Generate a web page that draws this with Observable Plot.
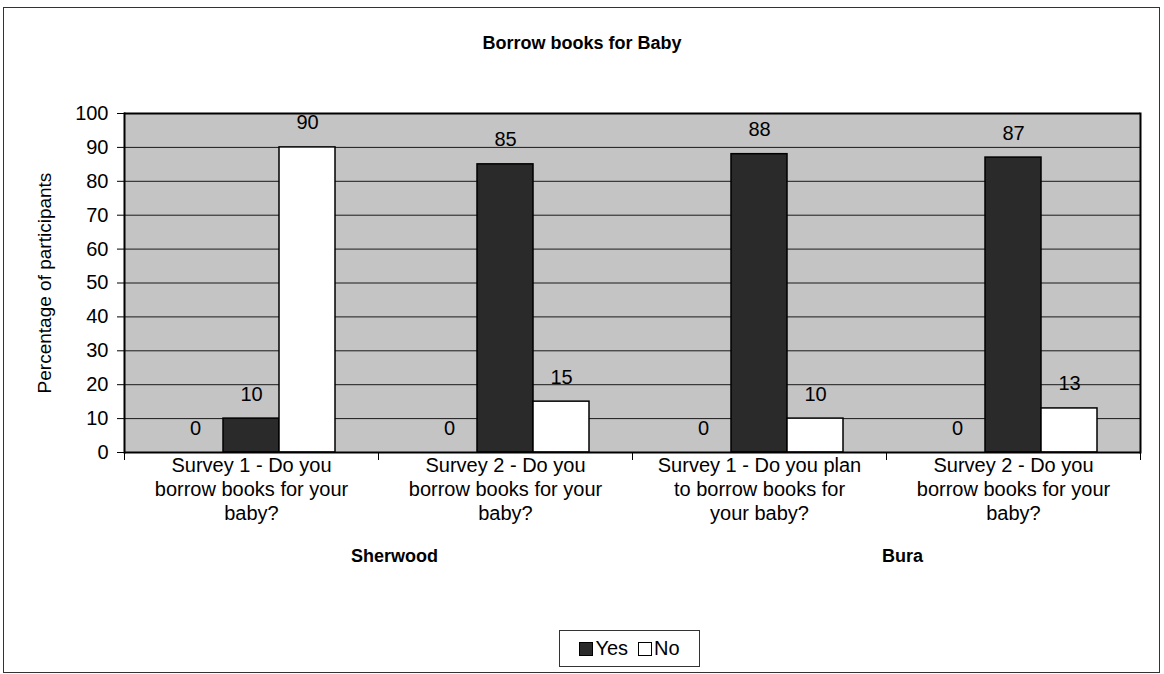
<!DOCTYPE html>
<html>
<head>
<meta charset="utf-8">
<script src="https://cdn.jsdelivr.net/npm/d3@7"></script>
<script src="https://cdn.jsdelivr.net/npm/@observablehq/plot@0.6"></script>
<style>
  html, body { margin: 0; padding: 0; background: #fff; }
  body { font-family: "Liberation Sans", Arial, sans-serif; color: #000; }
  #wrap { position: relative; width: 1164px; height: 674px; overflow: hidden; }
  #border { position: absolute; left: 3px; top: 7px; width: 1157px; height: 666px; border: 1px solid #333; box-sizing: border-box; pointer-events: none; }
  #title { box-sizing: border-box; height: 80px; padding-top: 33px; line-height: 20px; text-align: center; font-weight: bold; font-size: 18px; }
  #chart svg { display: block; }
  #legend { box-sizing: border-box; margin-top: 48px; margin-left: 559px; width: 141px; height: 37px; border: 1px solid #333; display: flex; align-items: center; justify-content: center; font-size: 20px; }
  #legend .sw { display: inline-block; width: 14px; height: 14px; border: 1.5px solid #000; box-sizing: border-box; margin-right: 2px; }
  #legend .item { display: flex; align-items: center; margin: 0 5px; }
</style>
</head>
<body>
<div id="wrap">
  <div id="border"></div>
  <div id="title"></div>
  <div id="chart"></div>
  <div id="legend"></div>
</div>
<script>
// ---- data ----
const title = "Borrow books for Baby";
const yLabel = "Percentage of participants";
const categoryKeys = ["S1", "S2", "B1", "B2"];
const categoryLabels = [
  "Survey 1 - Do you\nborrow books for your\nbaby?",
  "Survey 2 - Do you\nborrow books for your\nbaby?",
  "Survey 1 - Do you plan\nto borrow books for\nyour baby?",
  "Survey 2 - Do you\nborrow books for your\nbaby?"
];
const groupNames = ["Sherwood", "Bura"];
const groupFirstKey = ["S1", "B1"];
const seriesNames = ["Blank", "Yes", "No"];
const blankValues = [0, 0, 0, 0];
const yesValues = [10, 85, 88, 87];
const noValues = [90, 15, 10, 13];
const yTicks = [0, 10, 20, 30, 40, 50, 60, 70, 80, 90, 100];
const legendItems = ["Yes", "No"];

// ---- build table ----
const rows = [];
categoryKeys.forEach((k, i) => {
  rows.push({key: k, series: "Blank", value: blankValues[i]});
  rows.push({key: k, series: "Yes", value: yesValues[i]});
  rows.push({key: k, series: "No", value: noValues[i]});
});
const barRows = rows.filter(d => d.series !== "Blank");
const groupRows = groupNames.map((g, i) => ({key: groupFirstKey[i], name: g}));
const catRows = categoryKeys.map((k, i) => ({key: k, label: categoryLabels[i]}));

const colors = {Yes: "#2a2a2a", No: "#ffffff"};
const marginTop = 33, marginBottom = 130, plotH = 339;

document.getElementById("title").textContent = title;

const chart = Plot.plot({
  width: 1164,
  height: marginTop + plotH + marginBottom,
  marginTop,
  marginBottom,
  marginLeft: 124,
  marginRight: 24,
  style: {fontFamily: "'Liberation Sans', Arial, sans-serif", fontSize: "20px", color: "#000", background: "transparent"},
  fx: {domain: categoryKeys, padding: 0, axis: null},
  x: {domain: seriesNames, paddingInner: 0, paddingOuter: 0.74, axis: null},
  y: {domain: [0, 100], axis: null},
  marks: [
    Plot.frame({fill: "#c4c4c4", stroke: "none", shapeRendering: "crispEdges"}),
    Plot.ruleY(yTicks.filter(t => t > 0 && t < 100), {stroke: "#1a1a1a", strokeWidth: 1}),
    Plot.barY(barRows, {fx: "key", x: "series", y: "value", fill: d => colors[d.series], stroke: "#000", strokeWidth: 1.5}),
    Plot.ruleY([0, 100], {stroke: "#000", strokeWidth: 2}),
    Plot.frame({anchor: "left", facetAnchor: "left", stroke: "#000", strokeWidth: 2}),
    Plot.frame({anchor: "right", facetAnchor: "right", stroke: "#000", strokeWidth: 2}),
    Plot.frame({anchor: "left", insetTop: plotH, insetBottom: -7, stroke: "#000", strokeWidth: 1}),
    Plot.frame({anchor: "right", facetAnchor: "right", insetTop: plotH, insetBottom: -7, stroke: "#000", strokeWidth: 1}),
    Plot.axisY({ticks: yTicks, tickSize: 7, tickPadding: 9, fontSize: 20, label: null, tickFormat: d => String(d)}),
    Plot.text([yLabel], {frameAnchor: "left", textAnchor: "middle", rotate: -90, dx: -80, fontSize: 19, facetAnchor: "left"}),
    Plot.text(rows, {fx: "key", x: "series", y: "value", text: d => String(d.value), lineAnchor: "bottom", dy: -18, fontSize: 20}),
    Plot.text(catRows, {fx: "key", text: "label", frameAnchor: "bottom", lineAnchor: "top", dy: 2, fontSize: 20, lineHeight: 1.2}),
    Plot.text(groupRows, {fx: "key", text: "name", frameAnchor: "bottom-right", textAnchor: "middle", lineAnchor: "middle", dy: 104, dx: 16, fontSize: 18, fontWeight: "bold"})
  ]
});
document.getElementById("chart").appendChild(chart);

// legend
const legend = document.getElementById("legend");
legendItems.forEach(name => {
  const item = document.createElement("span");
  item.className = "item";
  const sw = document.createElement("span");
  sw.className = "sw";
  sw.style.background = colors[name];
  const lab = document.createElement("span");
  lab.textContent = name;
  item.appendChild(sw);
  item.appendChild(lab);
  legend.appendChild(item);
});
</script>
</body>
</html>
